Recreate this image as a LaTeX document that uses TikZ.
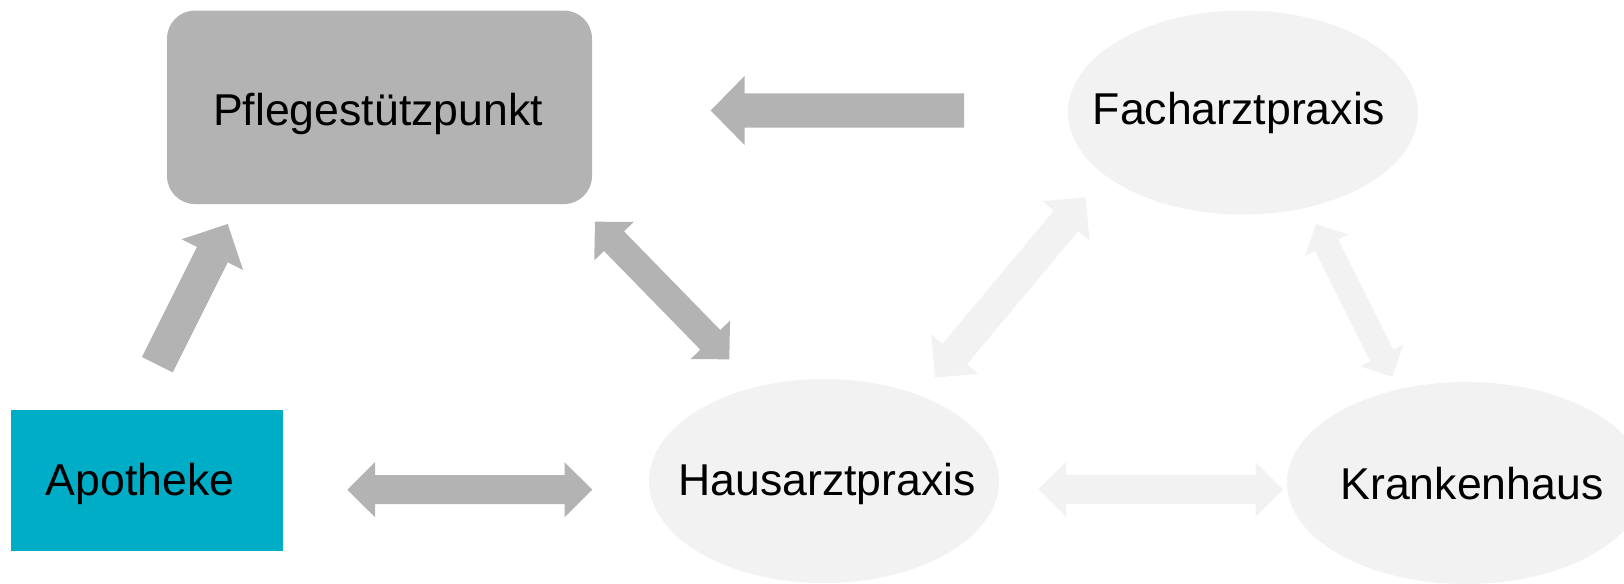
\documentclass[tikz,border=0pt]{standalone}
\usepackage{fontspec}
\setmainfont{Liberation Sans}
\usetikzlibrary{calc,shapes.geometric}
\definecolor{boxgray}{HTML}{B3B3B3}
\definecolor{palegray}{HTML}{F2F2F2}
\definecolor{apoteal}{HTML}{00ADC7}
\newcommand{\twoheadblock}[6]{%
  \path ($(#1)!#5!(#2)$) coordinate (ha) ($(#2)!#5!(#1)$) coordinate (hb);
  \fill[#6] (#1) -- ($(ha)!#4!90:(#2)$) -- ($(ha)!#3!90:(#2)$) -- ($(hb)!#3!-90:(#1)$) -- ($(hb)!#4!-90:(#1)$) -- (#2) -- ($(hb)!#4!90:(#1)$) -- ($(hb)!#3!90:(#1)$) -- ($(ha)!#3!-90:(#2)$) -- ($(ha)!#4!-90:(#2)$) -- cycle;}
\newcommand{\oneheadblock}[6]{%
  \path ($(#2)!#5!(#1)$) coordinate (hb);
  \fill[#6] (#2) -- ($(hb)!#4!90:(#1)$) -- ($(hb)!#3!90:(#1)$) -- ($(#1)!#3!-90:(#2)$) -- ($(#1)!#3!90:(#2)$) -- ($(hb)!#3!-90:(#1)$) -- ($(hb)!#4!-90:(#1)$) -- cycle;}
\begin{document}
\begin{tikzpicture}[x=0.5pt,y=-0.5pt,
  pflbox/.style={fill=boxgray, rounded corners=14pt, minimum width=212.5pt, minimum height=96.75pt, inner sep=0pt},
  apobox/.style={fill=apoteal, minimum width=135.8pt, minimum height=70.75pt, inner sep=0pt},
  oval/.style={ellipse, fill=palegray, minimum width=175pt, minimum height=102pt, inner sep=0pt},
  lbl/.style={inner sep=0pt, text height=16pt, text depth=0pt, font=\fontsize{22.3pt}{27pt}\selectfont},
]
\useasboundingbox (0,0) rectangle (1624,584);
% shapes
\node[pflbox] (pfl) at (379.5,107.3) {};
\node[apobox] (apo) at (147.2,480.7) {};
\node[oval] (fach) at (1243,112.5) {};
\node[oval] (haus) at (824,481) {};
\node[oval, minimum width=179pt, minimum height=101pt] (kran) at (1466,483) {};
% labels
\node[lbl] (pflT) at ($(pfl.center)+(-1.5,1.7)$) {Pflegestützpunkt};
\node[lbl] (apoT) at ($(apo.center)+(-7.2,-1.2)$) {Apotheke};
\node[lbl] (fachT) at ($(fach.center)+(-4,-4.5)$) {Facharztpraxis};
\node[lbl] (hausT) at ($(haus.center)+(3,-1.5)$) {Hausarztpraxis};
\node[lbl] (kranT) at ($(kran.center)+(6,0)$) {Krankenhaus};
% connector end points
\coordinate (fpS) at (964,110.5);   \coordinate (fpE) at (710.7,110.5);
\coordinate (apS) at (157.3,364.7); \coordinate (apE) at (227.7,224);
\coordinate (phA) at (595,221.7);   \coordinate (phB) at (729.3,359.3);
\coordinate (ahA) at (347.3,489.7); \coordinate (ahB) at (592.3,489.7);
\coordinate (hkA) at (1038.3,489.3);\coordinate (hkB) at (1283.3,489.3);
\coordinate (hfA) at (935,377.7);   \coordinate (hfB) at (1085.7,197.3);
\coordinate (fkA) at (1316,224);    \coordinate (fkB) at (1392.3,376.7);
% connectors
\oneheadblock{fpS}{fpE}{8.6pt}{17.2pt}{16.9pt}{boxgray}
\oneheadblock{apS}{apE}{8.6pt}{17.15pt}{17.1pt}{boxgray}
\twoheadblock{phA}{phB}{7pt}{13.8pt}{13.6pt}{boxgray}
\twoheadblock{ahA}{ahB}{7.25pt}{13.8pt}{13.9pt}{boxgray}
\twoheadblock{hkA}{hkB}{7.25pt}{13.75pt}{13.9pt}{palegray}
\twoheadblock{hfA}{hfB}{7.95pt}{15.4pt}{15.4pt}{palegray}
\twoheadblock{fkA}{fkB}{6.45pt}{12.1pt}{11.85pt}{palegray}
\end{tikzpicture}
\end{document}
